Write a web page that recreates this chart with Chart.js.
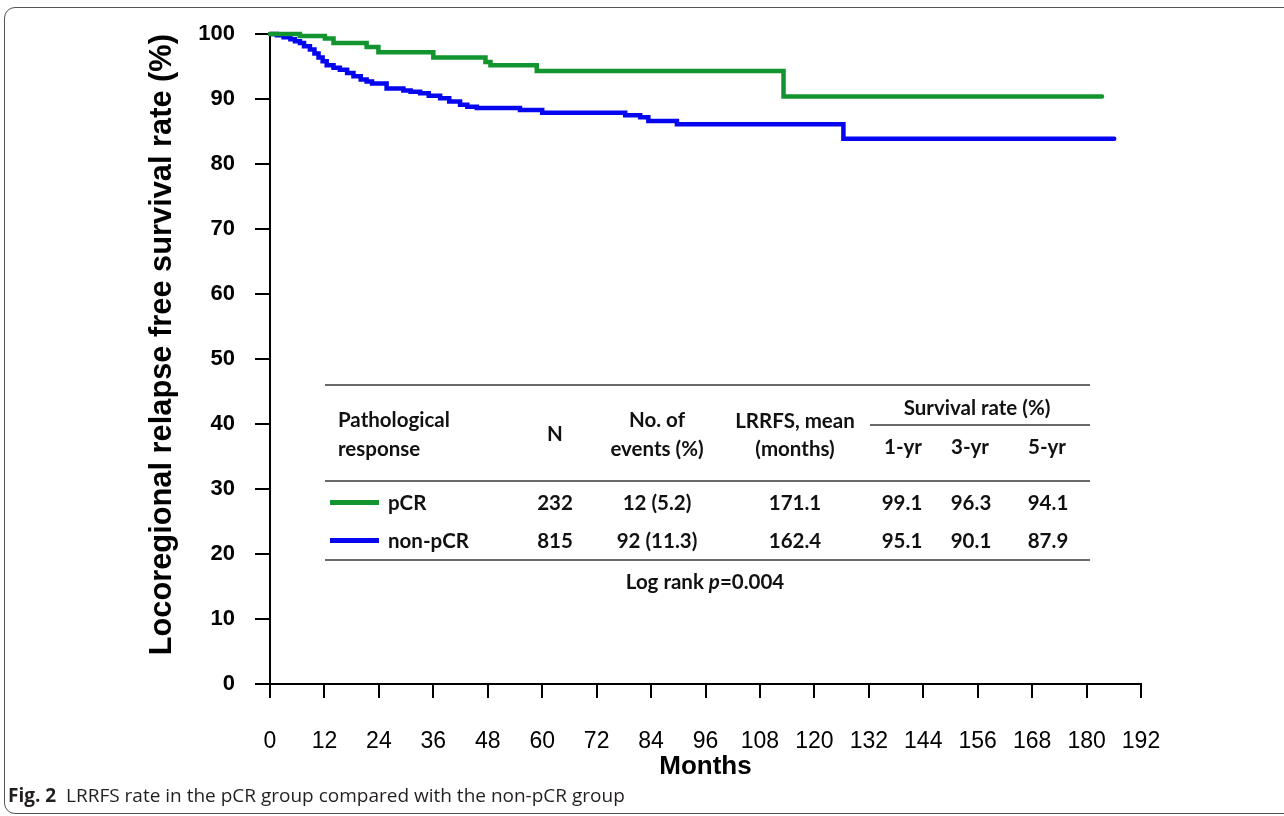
<!DOCTYPE html>
<html>
<head>
<meta charset="utf-8">
<title>LRRFS rate, pCR vs non-pCR</title>
<script src="https://cdn.jsdelivr.net/npm/chart.js@4.4.1/dist/chart.umd.min.js"></script>
<style>
  html, body { margin: 0; padding: 0; background: #fff; }
  body { width: 1284px; height: 816px; position: relative; overflow: hidden; }
  #frame { position: absolute; left: 4px; top: 7px; width: 1310px; height: 807px; border: 1.5px solid #555; border-radius: 11px; box-sizing: border-box; }
  #chart { position: absolute; left: 0; top: 0; }
  .txt { position: absolute; font-family: Lato, 'Open Sans', sans-serif; font-weight: 700; font-size: 20.5px; color: #111; white-space: nowrap; line-height: 1; }
  .c { transform: translate(-50%, -50%); }
  .l { transform: translateY(-50%); }
  .rule { position: absolute; height: 2px; background: #6a6a6a; }
  .swatch { position: absolute; height: 5px; }
  #caption { position: absolute; left: 8px; top: 784px; font-family: 'Open Sans', sans-serif; font-size: 19px; color: #231f20; white-space: nowrap; line-height: 1.2; }
  #caption b { font-weight: 700; }
</style>
</head>
<body>
<div id="frame"></div>
<canvas id="chart" width="1284" height="816"></canvas>
<div id="table"></div>
<div id="caption"><b>Fig. 2</b>&nbsp; LRRFS rate in the pCR group compared with the non-pCR group</div>
<script>
// Kaplan-Meier steps (months, % event free)
const pcrMonths = [0, 6.6, 12.1, 14, 21.3, 23.9, 36, 47.5, 48.6, 58.8, 113.2, 183.4];
const pcrRates  = [100, 99.7, 99.3, 98.6, 98.0, 97.2, 96.4, 95.7, 95.2, 94.3, 90.4, 90.4];

const nonPcrMonths = [0, 1.5, 3, 4.5, 5.5, 6.6, 7.5, 8.8, 9.8, 10.7, 11.6, 12.5, 14, 15.4, 17, 18.4, 20, 21.3, 22.5,
  25.7, 29.4, 31, 33.1, 35, 37.5, 39.5, 41.9, 43.5, 45.6, 55.1, 60, 78.3, 81.6, 83.4, 89.7, 126.4, 186.1];
const nonPcrRates  = [100, 99.8, 99.5, 99.2, 98.9, 98.6, 98.1, 97.6, 97.0, 96.4, 95.8, 95.2, 94.8, 94.5, 94.0, 93.5, 93.0, 92.7, 92.4,
  91.6, 91.3, 91.1, 90.9, 90.5, 90.1, 89.6, 89.1, 88.8, 88.6, 88.3, 87.9, 87.5, 87.2, 86.6, 86.1, 83.9, 83.9];

const xTicks = { min: 0, max: 192, step: 12 };
const yTicks = { min: 0, max: 100, step: 10 };

// summary table
const groups   = ['pCR', 'non-pCR'];
const groupN   = ['232', '815'];
const events   = ['12 (5.2)', '92 (11.3)'];
const meanLRRFS = ['171.1', '162.4'];
const rate1yr  = ['99.1', '95.1'];
const rate3yr  = ['96.3', '90.1'];
const rate5yr  = ['94.1', '87.9'];
const logRankP = '0.004';

const GREEN = '#12952f';
const BLUE = '#0505ef';
const colors = [GREEN, BLUE];

const toPoints = (months, rates) => months.map((m, i) => ({ x: m, y: rates[i] }));
const axisFont = "'Liberation Sans', Arial, sans-serif";

new Chart(document.getElementById('chart'), {
    type: 'line',
    data: {
        datasets: [
            { label: groups[0], data: toPoints(pcrMonths, pcrRates), borderColor: GREEN },
            { label: groups[1], data: toPoints(nonPcrMonths, nonPcrRates), borderColor: BLUE }
        ].map(ds => Object.assign(ds, {
            stepped: true, borderWidth: 4.5, pointRadius: 0, fill: false, clip: 10,
            borderCapStyle: 'round', borderJoinStyle: 'miter'
        }))
    },
    options: {
        responsive: false,
        animation: false,
        layout: { padding: { left: 140, top: 34, right: 143, bottom: 32 } },
        plugins: { legend: { display: false }, tooltip: { enabled: false } },
        scales: {
            x: {
                type: 'linear', min: xTicks.min, max: xTicks.max,
                ticks: { stepSize: xTicks.step, autoSkip: false, maxRotation: 0, color: '#000', padding: 30,
                    font: { family: axisFont, size: 23 } },
                grid: { drawOnChartArea: false, tickLength: 14, color: '#000', lineWidth: 2 },
                border: { color: '#000', width: 2 },
                title: { display: true, text: 'Months', color: '#000', padding: { top: 0, bottom: 2 },
                    font: { family: axisFont, size: 26, weight: 'bold' } },
                afterFit: s => { s.height = 100; }
            },
            y: {
                min: yTicks.min, max: yTicks.max,
                ticks: { stepSize: yTicks.step, color: '#000', padding: 20,
                    font: { family: axisFont, size: 22, weight: 'bold' } },
                grid: { drawOnChartArea: false, tickLength: 15, color: '#000', lineWidth: 2 },
                border: { color: '#000', width: 2 },
                title: { display: true, text: 'Locoregional relapse free survival rate (%)', align: 'end',
                    color: '#000', padding: { top: 4, bottom: 0 },
                    font: { family: axisFont, size: 30.8, weight: 'bold' } },
                afterFit: s => { s.width = 130; }
            }
        }
    }
});

// table overlay
const table = document.getElementById('table');
const addText = (text, x, y, cls) => {
    const d = document.createElement('div');
    d.className = 'txt ' + cls;
    d.style.left = x + 'px';
    d.style.top = y + 'px';
    d.innerHTML = text;
    table.appendChild(d);
};
const addRule = (x1, x2, y) => {
    const d = document.createElement('div');
    d.className = 'rule';
    d.style.left = x1 + 'px';
    d.style.width = (x2 - x1) + 'px';
    d.style.top = (y - 1) + 'px';
    table.appendChild(d);
};

addRule(325, 1090, 385);
addRule(870, 1090, 425);
addRule(325, 1090, 481);
addRule(325, 1090, 560);

addText('Pathological', 338, 419, 'l');
addText('response', 338, 448, 'l');
addText('N', 555, 433, 'c');
addText('No. of', 657, 419, 'c');
addText('events (%)', 657, 448, 'c');
addText('LRRFS, mean', 795, 420, 'c');
addText('(months)', 795, 448, 'c');
addText('Survival rate (%)', 977, 407, 'c');
addText('1-yr', 903, 446, 'c');
addText('3-yr', 970, 446, 'c');
addText('5-yr', 1047, 446, 'c');

const colX = [555, 657, 795, 902, 971, 1048];
const rowY = [502, 540];
groups.forEach((g, i) => {
    const sw = document.createElement('div');
    sw.className = 'swatch';
    sw.style.left = '330px';
    sw.style.width = '49px';
    sw.style.top = (rowY[i] - 2) + 'px';
    sw.style.background = colors[i];
    table.appendChild(sw);
    addText(g, 388, rowY[i], 'l');
    [groupN[i], events[i], meanLRRFS[i], rate1yr[i], rate3yr[i], rate5yr[i]]
        .forEach((v, j) => addText(v, colX[j], rowY[i], 'c'));
});
addText('Log rank <i>p</i>=' + logRankP, 705, 581, 'c');
</script>
</body>
</html>
